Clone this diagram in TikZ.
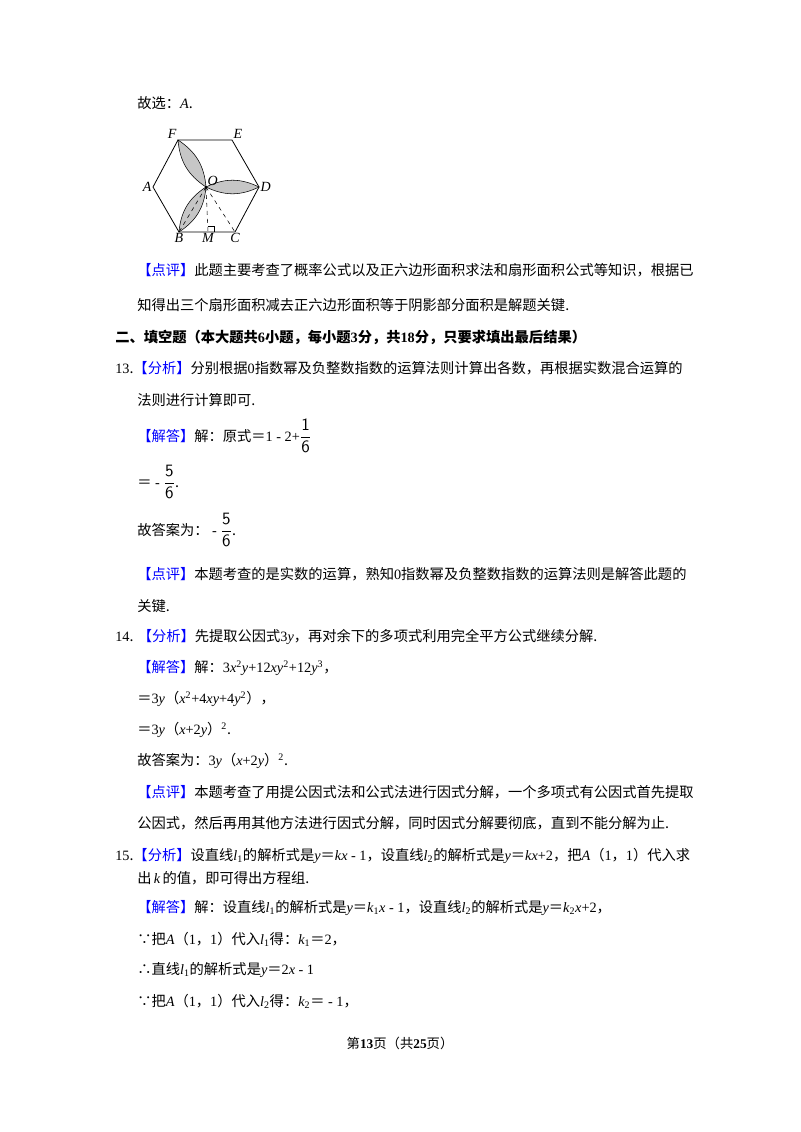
\documentclass[tikz,border=0pt]{standalone}
\usepackage{amsmath}
\usepackage{fontspec}
\setmainfont{Noto Sans CJK SC}
\newfontfamily\lat{Liberation Serif}
\newcommand{\V}[1]{{\lat\itshape #1}}
\newcommand{\N}[1]{{\lat #1}}
\newcommand{\Bk}[1]{\textcolor{blue}{【#1】}}
\newcommand{\Fr}[2]{{\fontsize{13}{15}\selectfont$\dfrac{\mathsf{#1}}{\mathsf{#2}}$}}
\begin{document}
\begin{tikzpicture}[x=0.75pt,y=-0.75pt,
  t/.style={anchor=west,inner sep=0pt,font=\fontsize{10.7}{13}\selectfont},
  lbl/.style={font=\lat\itshape\fontsize{10.5}{12}\selectfont,inner sep=1pt},
  petal/.style={draw=black,fill=gray!45,thin}]
\useasboundingbox (0,0) rectangle (800,1132);
% figure
\coordinate (F) at (178,140); \coordinate (E) at (232,140);
\coordinate (D) at (259,187); \coordinate (C) at (235,232);
\coordinate (B) at (179,232); \coordinate (A) at (153,187);
\coordinate (O) at (206,187); \coordinate (M) at (208,232);
\draw[petal] (O) to[bend left=26] (F) to[bend left=26] (O);
\draw[petal] (O) to[bend left=26] (D) to[bend left=26] (O);
\draw[petal] (O) to[bend left=26] (B) to[bend left=26] (O);
\draw[semithick] (A)--(F)--(E)--(D)--(C)--(B)--cycle;
\draw[dashed] (O)--(B) (O)--(M) (O)--(C);
\draw (M)++(0,-6) -- ++(6,0) -- ++(0,6);
\fill (O) circle (1.5);
\node[lbl,anchor=south east] (lF) at (F) {F};
\node[lbl,anchor=south west] (lE) at (E) {E};
\node[lbl,anchor=west] (lD) at (D) {D};
\node[lbl,anchor=east] (lA) at (A) {A};
\node[lbl,anchor=south west] (lO) at (O) {O};
\node[lbl,anchor=north] (lB) at (B) {B};
\node[lbl,anchor=north] (lM) at (M) {M};
\node[lbl,anchor=north] (lC) at (C) {C};
% text
\node[t] (l1) at (137,103) {故选：\V{A}.};
\node[t] (l2) at (137,270) {\Bk{点评}此题主要考查了概率公式以及正六边形面积求法和扇形面积公式等知识，根据已};
\node[t] (l3) at (137,305) {知得出三个扇形面积减去正六边形面积等于阴影部分面积是解题关键.};
\node[t,font=\bfseries\fontsize{10.7}{13}\selectfont] (l4) at (115,337) {二、填空题（本大题共\N{\bfseries 6}小题，每小题\N{\bfseries 3}分，共\N{\bfseries 18}分，只要求填出最后结果）};
\node[t] (l5) at (115,368) {\N{13}.\Bk{分析}分别根据\N{0}指数幂及负整数指数的运算法则计算出各数，再根据实数混合运算的};
\node[t] (l6) at (137,400) {法则进行计算即可.};
\node[t] (l7) at (137,436) {\Bk{解答}解：原式＝\N{1 - 2+}\Fr{1}{6}};
\node[t] (l8) at (137,482) {＝\N{ - }\Fr{5}{6}.};
\node[t] (l9) at (137,530) {故答案为：\N{ - }\Fr{5}{6}.};
\node[t] (l10) at (137,574) {\Bk{点评}本题考查的是实数的运算，熟知\N{0}指数幂及负整数指数的运算法则是解答此题的};
\node[t] (l11) at (137,606) {关键.};
\node[t] (l12) at (115,637) {\N{14}. \Bk{分析}先提取公因式\N{3}\V{y}，再对余下的多项式利用完全平方公式继续分解.};
\node[t] (l13) at (137,668) {\Bk{解答}解：\N{3}\V{x}\textsuperscript{\N{2}}\V{y}\N{+12}\V{xy}\textsuperscript{\N{2}}\N{+12}\V{y}\textsuperscript{\N{3}}，};
\node[t] (l14) at (137,699) {＝\N{3}\V{y}（\V{x}\textsuperscript{\N{2}}\N{+4}\V{xy}\N{+4}\V{y}\textsuperscript{\N{2}}），};
\node[t] (l15) at (137,730) {＝\N{3}\V{y}（\V{x}\N{+2}\V{y}）\textsuperscript{\N{2}}.};
\node[t] (l16) at (137,761) {故答案为：\N{3}\V{y}（\V{x}\N{+2}\V{y}）\textsuperscript{\N{2}}.};
\node[t] (l17) at (137,792) {\Bk{点评}本题考查了用提公因式法和公式法进行因式分解，一个多项式有公因式首先提取};
\node[t] (l18) at (137,823) {公因式，然后再用其他方法进行因式分解，同时因式分解要彻底，直到不能分解为止.};
\node[t] (l19) at (115,856) {\N{15}.\Bk{分析}设直线\V{l}\textsubscript{\N{1}}的解析式是\V{y}＝\V{kx}\N{ - 1}，设直线\V{l}\textsubscript{\N{2}}的解析式是\V{y}＝\V{kx}\N{+2}，把\V{A}（\N{1}，\N{1}）代入求};
\node[t] (l20) at (137,878) {出\,\V{k}\,的值，即可得出方程组.};
\node[t] (l21) at (137,908) {\Bk{解答}解：设直线\V{l}\textsubscript{\N{1}}的解析式是\V{y}＝\V{k}\textsubscript{\N{1}}\V{x}\N{ - 1}，设直线\V{l}\textsubscript{\N{2}}的解析式是\V{y}＝\V{k}\textsubscript{\N{2}}\V{x}\N{+2}，};
\node[t] (l22) at (137,939) {∵把\V{A}（\N{1}，\N{1}）代入\V{l}\textsubscript{\N{1}}得：\V{k}\textsubscript{\N{1}}＝\N{2}，};
\node[t] (l23) at (137,970) {∴直线\V{l}\textsubscript{\N{1}}的解析式是\V{y}＝\N{2}\V{x}\N{ - 1}};
\node[t] (l24) at (137,1001) {∵把\V{A}（\N{1}，\N{1}）代入\V{l}\textsubscript{\N{2}}得：\V{k}\textsubscript{\N{2}}＝\N{ - 1}，};
\node[inner sep=0pt,font=\fontsize{10}{12}\selectfont] (foot) at (400,1043) {第\textbf{\N{\bfseries 13}}页（共\textbf{\N{\bfseries 25}}页）};
\end{tikzpicture}
\end{document}
